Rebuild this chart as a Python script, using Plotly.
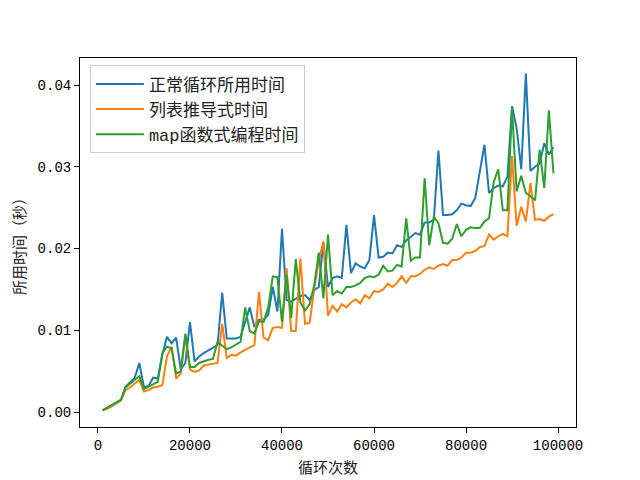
import plotly.graph_objects as go

x_vals = list(range(1000, 100000, 1000))

normal_loop = [
    0.0002, 0.0005, 0.0008, 0.0011, 0.0015, 0.0031, 0.0036, 0.0042, 0.0060, 0.0030,
    0.0032, 0.0042, 0.0041, 0.0070, 0.0092, 0.0084, 0.0091, 0.0052, 0.0060, 0.0110,
    0.0062, 0.0068, 0.0072, 0.0075, 0.0078, 0.0082, 0.0146, 0.0090, 0.0090, 0.0090,
    0.0092, 0.0110, 0.0128, 0.0104, 0.0113, 0.0113, 0.0119, 0.0153, 0.0123, 0.0224,
    0.0137, 0.0135, 0.0139, 0.0142, 0.0143, 0.0137, 0.0149, 0.0153, 0.0208, 0.0153,
    0.0164, 0.0166, 0.0164, 0.0229, 0.0170, 0.0182, 0.0178, 0.0176, 0.0186, 0.0241,
    0.0189, 0.0190, 0.0195, 0.0194, 0.0204, 0.0202, 0.0210, 0.0214, 0.0219, 0.0217,
    0.0232, 0.0232, 0.0235, 0.0320, 0.0241, 0.0241, 0.0242, 0.0247, 0.0255, 0.0253,
    0.0252, 0.0262, 0.0294, 0.0327, 0.0268, 0.0274, 0.0277, 0.0276, 0.0288, 0.0374,
    0.0347, 0.0297, 0.0414, 0.0295, 0.0300, 0.0304, 0.0329, 0.0315, 0.0324,
]

list_comp = [
    0.0002, 0.0004, 0.0007, 0.0010, 0.0014, 0.0027, 0.0030, 0.0035, 0.0039, 0.0025,
    0.0027, 0.0030, 0.0031, 0.0033, 0.0068, 0.0080, 0.0041, 0.0047, 0.0093, 0.0052,
    0.0049, 0.0051, 0.0057, 0.0058, 0.0059, 0.0060, 0.0108, 0.0066, 0.0070, 0.0069,
    0.0073, 0.0076, 0.0079, 0.0082, 0.0147, 0.0091, 0.0088, 0.0103, 0.0104, 0.0103,
    0.0176, 0.0099, 0.0099, 0.0188, 0.0108, 0.0109, 0.0150, 0.0185, 0.0209, 0.0118,
    0.0130, 0.0123, 0.0132, 0.0128, 0.0134, 0.0138, 0.0133, 0.0143, 0.0139, 0.0148,
    0.0147, 0.0150, 0.0157, 0.0153, 0.0158, 0.0166, 0.0158, 0.0166, 0.0166, 0.0169,
    0.0174, 0.0177, 0.0175, 0.0179, 0.0181, 0.0179, 0.0186, 0.0186, 0.0189, 0.0195,
    0.0195, 0.0197, 0.0202, 0.0203, 0.0217, 0.0211, 0.0215, 0.0218, 0.0215, 0.0313,
    0.0228, 0.0251, 0.0233, 0.0280, 0.0235, 0.0236, 0.0234, 0.0239, 0.0242,
]

map_func = [
    0.0002, 0.0005, 0.0008, 0.0011, 0.0015, 0.0030, 0.0035, 0.0040, 0.0044, 0.0028,
    0.0031, 0.0034, 0.0037, 0.0072, 0.0080, 0.0078, 0.0047, 0.0050, 0.0096, 0.0055,
    0.0055, 0.0060, 0.0062, 0.0064, 0.0065, 0.0086, 0.0081, 0.0077, 0.0079, 0.0082,
    0.0086, 0.0128, 0.0099, 0.0096, 0.0111, 0.0110, 0.0128, 0.0166, 0.0165, 0.0110,
    0.0168, 0.0115, 0.0187, 0.0134, 0.0124, 0.0132, 0.0155, 0.0195, 0.0139, 0.0217,
    0.0143, 0.0148, 0.0145, 0.0153, 0.0153, 0.0155, 0.0158, 0.0164, 0.0166, 0.0165,
    0.0168, 0.0179, 0.0172, 0.0173, 0.0180, 0.0178, 0.0237, 0.0185, 0.0189, 0.0189,
    0.0286, 0.0204, 0.0239, 0.0231, 0.0207, 0.0206, 0.0212, 0.0230, 0.0215, 0.0223,
    0.0226, 0.0225, 0.0225, 0.0233, 0.0237, 0.0281, 0.0297, 0.0247, 0.0247, 0.0371,
    0.0270, 0.0289, 0.0268, 0.0264, 0.0259, 0.0321, 0.0274, 0.0369, 0.0292,
]

series_names = ["正常循环所用时间", "列表推导式时间", "map函数式编程时间"]
colors = ["#1f77b4", "#ff7f0e", "#2ca02c"]

x_ticks = [0, 20000, 40000, 60000, 80000, 100000]
y_ticks = [0.00, 0.01, 0.02, 0.03, 0.04]
y_tick_text = ["0.00", "0.01", "0.02", "0.03", "0.04"]

FONT = "Liberation Mono, Noto Sans CJK SC, monospace"

fig = go.Figure()
for name, ys, c in zip(series_names, [normal_loop, list_comp, map_func], colors):
    fig.add_trace(go.Scatter(x=x_vals, y=ys, mode="lines", name=name,
                             line=dict(color=c, width=2)))

axis_common = dict(showline=True, linecolor="black", linewidth=1, mirror=True,
                   ticks="outside", ticklen=5, tickcolor="black", showgrid=False,
                   zeroline=False, automargin=False,
                   tickfont=dict(family=FONT, size=14, color="black"))

fig.update_layout(
    width=640, height=480,
    margin=dict(l=80, r=64, t=58, b=53),
    paper_bgcolor="white", plot_bgcolor="white",
    font=dict(family=FONT, size=14, color="black"),
    xaxis=dict(range=[-3900, 103900], tickvals=x_ticks, ticktext=[str(v) for v in x_ticks],
               title=dict(text="循环次数", font=dict(family=FONT, size=15, color="#222"), standoff=9),
               **axis_common),
    yaxis=dict(range=[-0.00183, 0.04331], tickvals=y_ticks, ticktext=y_tick_text,
               title=dict(text="所用时间（秒）", font=dict(family=FONT, size=15, color="#222"), standoff=8),
               **axis_common),
    legend=dict(x=0.02, y=0.98, xanchor="left", yanchor="top",
                bgcolor="rgba(255,255,255,0.8)", bordercolor="#cccccc", borderwidth=1,
                font=dict(family=FONT, size=17, color="#222"), itemwidth=48),
    showlegend=True,
)

fig.write_html("out.html")
